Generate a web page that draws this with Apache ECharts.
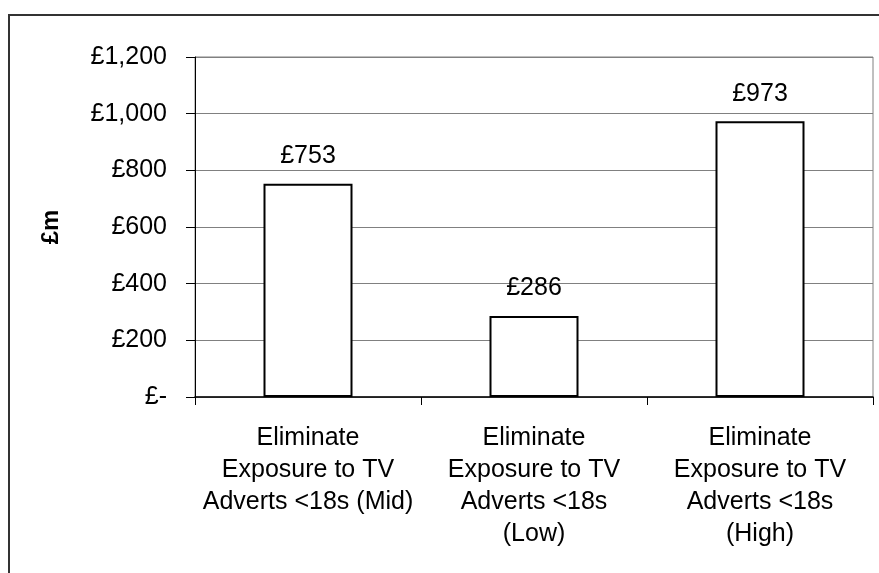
<!DOCTYPE html>
<html><head><meta charset="utf-8">
<script src="https://cdn.jsdelivr.net/npm/echarts@6/dist/echarts.min.js"></script>
<style>html,body{margin:0;padding:0;background:#fff}#c{width:879px;height:573px}</style>
</head><body><div id="c"></div>
<script>
const categories = [
  "Eliminate\nExposure to TV\nAdverts <18s (Mid)",
  "Eliminate\nExposure to TV\nAdverts <18s\n(Low)",
  "Eliminate\nExposure to TV\nAdverts <18s\n(High)"
];
const values = [753, 286, 973];
const yAxisName = "£m";
const yMin = 0, yMax = 1200, yStep = 200;

function money(v){ return v === 0 ? "£-" : "£" + v.toLocaleString("en-GB"); }

const FONT = "Liberation Sans, Arial, sans-serif";
const chart = echarts.init(document.getElementById('c'), null, {renderer:'canvas'});
chart.setOption({
  animation: false,
  backgroundColor: '#fff',
  textStyle: {fontFamily: FONT, color: '#000'},
  graphic: [{type:'rect', shape:{x:9, y:15, width:900, height:600}, style:{fill:'none', stroke:'#333', lineWidth:2}, z:-1}],
  grid: {left:195, top:57, right:6, bottom:176, show:true, borderColor:'#808080', borderWidth:1},
  xAxis: {
    type:'category', data:categories,
    axisLine:{lineStyle:{color:'#000', width:1.5}},
    axisTick:{show:true, length:8, alignWithLabel:false, lineStyle:{color:'#000'}},
    axisLabel:{fontFamily:FONT, fontSize:25, color:'#000', lineHeight:32, margin:25, interval:0}
  },
  yAxis: {
    type:'value', min:yMin, max:yMax, interval:yStep,
    name:yAxisName, nameLocation:'middle', nameRotate:90, nameGap:132,
    nameTextStyle:{fontFamily:FONT, fontSize:24, fontWeight:'bold', color:'#000'},
    axisLine:{show:true, lineStyle:{color:'#000', width:1}},
    axisTick:{show:true, length:9, inside:false, lineStyle:{color:'#000'}},
    axisLabel:{fontFamily:FONT, fontSize:25, color:'#000', margin:28, formatter:money},
    splitLine:{show:true, lineStyle:{color:'#808080', width:1}}
  },
  series: [{
    type:'bar', data:values, barWidth:89,
    itemStyle:{color:'#fff', borderColor:'#000', borderWidth:2},
    label:{show:true, position:'top', distance:15, fontFamily:FONT, fontSize:25, color:'#000', formatter:p=>money(p.value)}
  }]
});
</script></body></html>
